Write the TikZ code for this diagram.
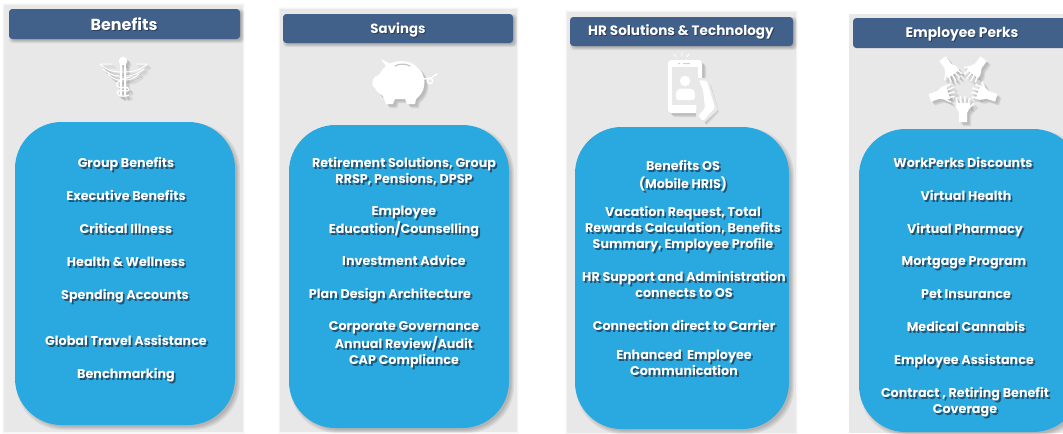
\documentclass[tikz,border=0pt]{standalone}
\usepackage{fontspec}
\setmainfont{Poppins}
\usetikzlibrary{calc}
\definecolor{panelgray}{HTML}{E8E8E8}
\definecolor{headblue}{HTML}{41608A}
\definecolor{pillblue}{HTML}{29A9DF}
\definecolor{txtshadow}{HTML}{1F4460}
\definecolor{iconshadow}{HTML}{808080}
\tikzset{
  x=0.75pt,y=-0.75pt,
  panel/.style={fill=panelgray,draw=none},
  head/.style={fill=headblue,draw=none,rounded corners=2.5pt},
  pill/.style={fill=pillblue,draw=none,rounded corners=35pt},
  txt/.style={font=\fontsize{9.55pt}{12pt}\selectfont\bfseries,align=center,inner sep=0pt,text=white},
  txtsh/.style={font=\fontsize{9.55pt}{12pt}\selectfont\bfseries,align=center,inner sep=0pt,text=txtshadow,opacity=.85},
  htxt/.style={font=\fontsize{#1}{12pt}\selectfont\bfseries,align=center,inner sep=0pt,text=white},
  hsh/.style={font=\fontsize{#1}{12pt}\selectfont\bfseries,align=center,inner sep=0pt,text=black,opacity=.35},
  icon/.style={fill=white,draw=none},
  iconline/.style={draw=white,line cap=round,line join=round,fill=none},
}
% soft shadow: layered translucent copies (x1 y1 x2 y2 radius offset strength)
\newcommand{\softshadow}[7]{%
  \foreach \d in {0,1,2,3}{
    \fill[black,opacity=#7,rounded corners=#5]
      ($(#1,#2)+(#6+\d-2,#6+\d-2)$) rectangle ($(#3,#4)+(#6-\d+2,#6-\d+2)$);
  }}
\newcommand{\block}[4]{% name x y text
  \node[txtsh] (#1s) at ($(#2,#3)+(1.8,3)$) {\strut #4\strut};
  \node[txt] (#1) at ($(#2,#3)+(0,1)$) {\strut #4\strut};}
\newcommand{\headt}[5]{% name x y size text
  \node[hsh=#4] (#1s) at ($(#2,#3)+(1,2)$) {\strut #5\strut};
  \node[htxt=#4] (#1) at ($(#2,#3)+(0,1)$) {\strut #5\strut};}
\newcommand{\caduceus}{
  \fill (123,61) circle (4.3);
  \draw[line width=1.1pt] (121,64) -- (121,96) (125,64) -- (125,96);
  \draw[line width=.7pt] (123,72) .. controls (112,72) and (106,70) .. (100,64)
    (123,72) .. controls (134,72) and (140,70) .. (147,64)
    (120,76) .. controls (112,76) and (108,73) .. (103,69)
    (126,76) .. controls (134,76) and (138,73) .. (144,69)
    (120,80) .. controls (115,80) and (112,78) .. (108,74)
    (126,80) .. controls (131,80) and (134,78) .. (139,74)
    (100,64) -- (112,64) (147,64) -- (136,64);
  \draw[line width=.9pt] (130,77) .. controls (122,79) and (115,82) .. (117,86)
    .. controls (119,90) and (130,85) .. (129,90)
    .. controls (129,93) and (117,88) .. (117,92)
    .. controls (117,97) and (126,97) .. (129,95);
}
\newcommand{\piggyshape}{
  (380.7,59) -- (390,63.5) .. controls (400,59) and (412,61) .. (418,68)
  .. controls (424,73) and (426,82) .. (423,90)
  .. controls (421,95) and (418,97) .. (416,99)
  -- (415,104) -- (407,104) -- (405,99) -- (395,99) -- (393,104) -- (386,104)
  -- (383,96) .. controls (379,94) and (376,91) .. (375,88)
  .. controls (371,87) and (372,78) .. (375,77)
  .. controls (378,76) and (380,74) .. (381,72)
  .. controls (382,70) and (384,67) .. (386,66) -- cycle
}
\newcommand{\phoneshape}{
  [rounded corners=2.5pt] (668,60) rectangle (702,113)
}
\newcommand{\handgeom}{
  \fill (-4,35) -- (4,35) -- (4,26) -- (7,20) -- (7,16) -- (-7,16) -- (-7,20) -- (-4,26) -- cycle;
  \draw[line width=1.05pt] (-5.4,17) -- (-7,11.5) (-2,16) -- (-2.7,9.5) (1.6,16) -- (2,9.5) (5.2,17) -- (6.4,11.5) (6,21) -- (10.5,16.5);
}
\newcommand{\fivehands}{
  \foreach \k in {0,1,2,3,4}{
    \begin{scope}[shift={(963,87)},rotate=\k*72]
      \handgeom
    \end{scope}
  }
}
\newcommand{\allicons}{
  \caduceus
  \fill \piggyshape;
  \fill \phoneshape;
  \fill (699,80) -- (707,81) -- (715,108) -- (703,121) -- (698,116) -- cycle;
  \fivehands
}
\begin{document}
\begin{tikzpicture}
\useasboundingbox (0,0) rectangle (1063,433);
\clip (0,0) rectangle (1063,433);
\fill[white] (0,0) rectangle (1063,433);

% ---------- panels ----------
\softshadow{4}{5}{243}{432}{0pt}{0}{.02}
\fill[panel] (4,5) rectangle (243,432);
\softshadow{280}{9}{517}{432}{0pt}{0}{.02}
\fill[panel] (280,9) rectangle (517,432);
\softshadow{567}{12}{796}{433}{0pt}{0}{.02}
\fill[panel] (567,12) rectangle (796,433);
\fill[panel] (849,14) rectangle (1070,433);

% ---------- headers ----------
\softshadow{9}{9}{240}{39}{2.5pt}{2}{.07}
\fill[head] (9,9) rectangle (240,39);
\softshadow{283}{14}{513}{43}{2.5pt}{2}{.07}
\fill[head] (283,14) rectangle (513,43);
\softshadow{570}{17}{793}{46}{2.5pt}{2}{.07}
\fill[head] (570,17) rectangle (793,46);
\fill[head] (853,18) rectangle (1070,48);

% ---------- pills ----------
\softshadow{15}{122}{235}{425}{35pt}{3}{.06}
\fill[pill] (15,122) rectangle (235,425);
\softshadow{289}{125}{509}{428}{35pt}{3}{.06}
\fill[pill] (289,125) rectangle (509,428);
\softshadow{575}{127}{789}{429}{35pt}{3}{.06}
\fill[pill] (575,127) rectangle (789,429);
\softshadow{859}{129}{1080}{432}{35pt}{3}{.06}
\fill[pill] (859,129) rectangle (1080,432);

% ---------- header text ----------
\headt{hA}{124}{25}{12pt}{Benefits}
\headt{hB}{398}{29}{10pt}{Savings}
\headt{hC}{681}{31}{10.2pt}{HR Solutions \& Technology}
\headt{hD}{962}{33}{10.4pt}{Employee Perks}

% ---------- icon shadows (blurred by layering) ----------
\foreach \o in {2,3,4}{
  \begin{scope}[shift={(\o,\o)},fill=iconshadow,draw=iconshadow,opacity=.17,line cap=round]
    \allicons
  \end{scope}
}

% ---------- caduceus ----------
\begin{scope}[fill=white,draw=white,line cap=round]\caduceus\end{scope}

% ---------- piggy ----------
\fill[icon] \piggyshape;
\draw[iconline,line width=1.1pt] (424,79) -- (431,78) -- (437,74);
\draw[iconline,line width=1.1pt] (430,81) circle (2.6);
\draw[draw=panelgray!85!black,line width=.9pt,line cap=round] (395,66) .. controls (399,63.5) and (406,63.5) .. (410,66);

% ---------- phone ----------
\fill[icon] \phoneshape;
\fill[panelgray] (672,67) rectangle (698,105);
\fill[icon] (685,81) circle (5.3);
\fill[icon,rounded corners=2pt] (676,100) -- (676,91) -- (680,88.5) -- (691,88.5) -- (695,91) -- (695,100) -- cycle;
\fill[panelgray!90!black] (678,63) rectangle (680,64) (683,63) rectangle (690,64);
\fill[panelgray] (698,78) -- (708,78) -- (718,110) -- (703,124) -- (696,119) -- (696,113) -- cycle;
\fill[icon,rounded corners=1pt] (699,80) -- (707,81) -- (715,108) -- (703,121) -- (698,116) -- (705,108) -- (703,90) -- cycle;
\draw[iconline,line width=.7pt] (674,54) -- (676,57) (682,52.5) -- (682,56) (689,54) -- (687,57);

% ---------- hands ----------
\begin{scope}[fill=white,draw=white,line cap=round]\fivehands\end{scope}

% ---------- Benefits ----------
\block{a1}{126}{163}{Group Benefits}
\block{a2}{126}{196}{Executive Benefits}
\block{a3}{126}{229}{Critical Illness}
\block{a4}{126}{262}{Health \& Wellness}
\block{a5}{125}{295}{Spending Accounts}
\block{a6}{126}{341}{Global Travel Assistance}
\block{a7}{126}{374}{Benchmarking}

% ---------- Savings ----------
\block{b1}{404}{171}{Retirement Solutions, Group\\RRSP, Pensions, DPSP}
\block{b2}{404}{220}{Employee\\Education/Counselling}
\block{b3}{404}{261}{Investment Advice}
\block{b4}{390}{294}{Plan Design Architecture}
\block{b5}{404}{343.5}{Corporate Governance\\Annual Review/Audit\\CAP Compliance}

% ---------- HR ----------
\block{c1}{683}{175}{Benefits OS\\(Mobile HRIS)}
\block{c2}{683}{228}{Vacation Request, Total\\Rewards Calculation, Benefits\\Summary, Employee Profile}
\block{c3}{684}{285}{HR Support and Administration\\connects to OS}
\block{c4}{684}{326}{Connection direct to Carrier}
\block{c5}{684}{363}{Enhanced~~Employee\\Communication}

% ---------- Perks ----------
\block{d1}{963}{163}{WorkPerks Discounts}
\block{d2}{966}{196}{Virtual Health}
\block{d3}{965}{229}{Virtual Pharmacy}
\block{d4}{964}{261}{Mortgage Program}
\block{d5}{966}{294}{Pet Insurance}
\block{d6}{966}{327}{Medical Cannabis}
\block{d7}{964}{360}{Employee Assistance}
\block{d8}{965}{401.5}{Contract , Retiring Benefit\\Coverage}
\end{tikzpicture}
\end{document}
